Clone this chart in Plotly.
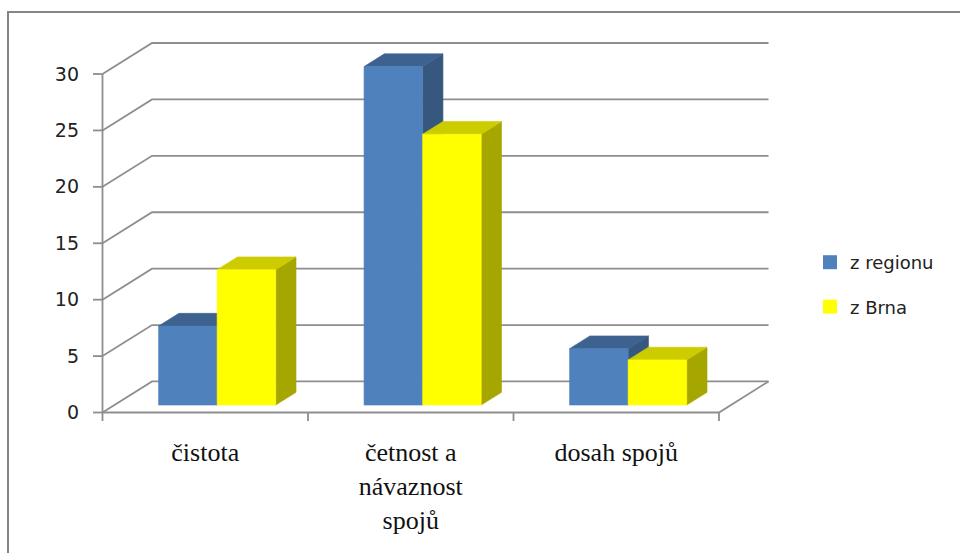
import plotly.graph_objects as go

# ---- data -------------------------------------------------------------
categories = ["čistota", "četnost a<br>návaznost<br>spojů", "dosah spojů"]
series_names = ["z regionu", "z Brna"]
z_regionu = [7, 30, 5]
z_brna = [12, 24, 4]
y_ticks = [0, 5, 10, 15, 20, 25, 30]

# ---- styling ----------------------------------------------------------
# face colours of each 3-D column: (front, top, side)
FACES = [
    ("#4F81BD", "#3D6290", "#36587F"),
    ("#FFFF00", "#CCCC00", "#A6A600"),
]
GRID = "#8E8E8E"

# oblique projection: a point at depth d (0 = front, 1 = back wall)
# is shifted by d*DEPTH_X along x and d*DEPTH_Y along y (axis units)
DEPTH_X = 0.241
DEPTH_Y = 2.75
BAR_FRONT = 0.24
BAR_BACK = 0.65
BAR_W = 0.285
N_CAT = len(categories)
Y_MAX = y_ticks[-1]

# pixel geometry of the plotting area
W, H = 960, 553
ML, MR, MT, MB = 90, 180, 34, 129
PW, PH = W - ML - MR, H - MT - MB
X0_PX, Y0_PX = 102.5, 412.5      # where (0, 0) of the front plane sits
PX_PER_X, PX_PER_Y = 205.5, 11.283
x_range = [-(X0_PX - ML) / PX_PER_X, (W - MR - X0_PX) / PX_PER_X]
y_range = [-(H - MB - Y0_PX) / PX_PER_Y, (Y0_PX - MT) / PX_PER_Y]
TICK_X = 9.5 / PX_PER_X
TICK_Y = 8.5 / PX_PER_Y


def paper_x(px):
    return (px - ML) / PW


def paper_y(py):
    return (H - MB - py) / PH


def proj(x, y, d):
    return x + d * DEPTH_X, y + d * DEPTH_Y


def polygon(points):
    xs, ys = zip(*points)
    return list(xs) + [xs[0]], list(ys) + [ys[0]]


fig = go.Figure()

# ---- back wall gridlines, floor and front axis ------------------------
gx, gy = [], []
for v in y_ticks:
    bx, by = proj(0, v, 1)
    ex, ey = proj(N_CAT, v, 1)
    gx += [0, bx, ex, None]
    gy += [v, by, ey, None]
# floor: front edge and right edge
rx, ry = proj(N_CAT, 0, 1)
gx += [0, N_CAT, rx, None]
gy += [0, 0, ry, None]
# vertical value axis with its ticks
gx += [0, 0, None]
gy += [0, Y_MAX, None]
for v in y_ticks:
    gx += [-TICK_X, 0, None]
    gy += [v, v, None]
# category separators on the floor
for k in range(N_CAT + 1):
    gx += [k, k, None]
    gy += [0, -TICK_Y, None]

fig.add_trace(go.Scatter(
    x=gx, y=gy, mode="lines",
    line=dict(color=GRID, width=1.8),
    hoverinfo="skip", showlegend=False,
))

# ---- 3-D columns --------------------------------------------------------
series_values = [z_regionu, z_brna]
for i in range(N_CAT):
    for s, values in enumerate(series_values):
        v = values[i]
        left = i + 0.5 + (s - 1) * BAR_W
        right = left + BAR_W
        front_c, top_c, side_c = FACES[s]
        faces = [
            (side_c, [proj(right, 0, BAR_FRONT), proj(right, 0, BAR_BACK),
                      proj(right, v, BAR_BACK), proj(right, v, BAR_FRONT)]),
            (top_c, [proj(left, v, BAR_FRONT), proj(right, v, BAR_FRONT),
                     proj(right, v, BAR_BACK), proj(left, v, BAR_BACK)]),
            (front_c, [proj(left, 0, BAR_FRONT), proj(right, 0, BAR_FRONT),
                       proj(right, v, BAR_FRONT), proj(left, v, BAR_FRONT)]),
        ]
        for color, pts in faces:
            px, py = polygon(pts)
            fig.add_trace(go.Scatter(
                x=px, y=py, mode="lines", fill="toself",
                fillcolor=color, line=dict(color=color, width=0.6),
                hoverinfo="skip", showlegend=False,
            ))

# legend entries
for s, name in enumerate(series_names):
    fig.add_trace(go.Scatter(
        x=[None], y=[None], mode="markers", name=name,
        legendgroup=name,
        marker=dict(symbol="square", size=14, color=FACES[s][0]),
    ))

fig.update_layout(
    width=W, height=H,
    margin=dict(l=ML, r=MR, t=MT, b=MB, pad=0),
    paper_bgcolor="white", plot_bgcolor="white",
    xaxis=dict(
        range=x_range, showgrid=False, zeroline=False, showline=False,
        tickmode="array", tickvals=[k + 0.5 for k in range(N_CAT)],
        ticktext=categories, ticks="",
        tickfont=dict(family="Liberation Serif", size=26, color="#111"),
        ticklabelstandoff=10, fixedrange=True,
    ),
    yaxis=dict(
        range=y_range, showgrid=False, zeroline=False, showline=False,
        tickmode="array", tickvals=y_ticks, ticks="",
        tickfont=dict(family="DejaVu Sans", size=19, color="#222"),
        ticklabelstandoff=10, fixedrange=True,
    ),
    legend=dict(
        x=paper_x(810), y=paper_y(244), xanchor="left", yanchor="top",
        font=dict(family="DejaVu Sans", size=18, color="#222"),
        traceorder="grouped", tracegroupgap=18,
        itemwidth=30, bgcolor="rgba(0,0,0,0)",
    ),
    shapes=[dict(
        type="rect", xref="paper", yref="paper",
        x0=paper_x(8), x1=paper_x(W + 20),
        y0=paper_y(H + 20), y1=paper_y(12),
        line=dict(color="#858585", width=2), layer="below",
    )],
)

fig.write_html("out.html")
